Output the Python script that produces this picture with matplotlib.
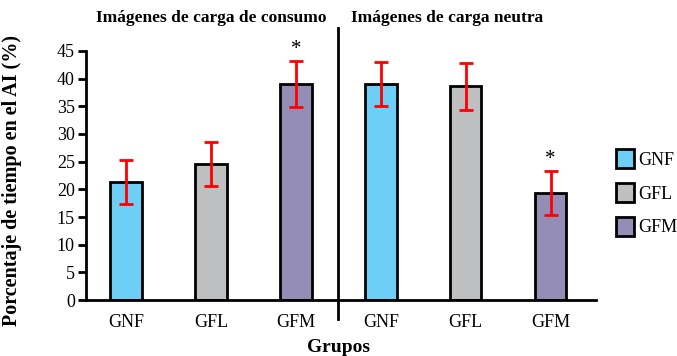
import matplotlib
matplotlib.use('Agg')
import matplotlib.pyplot as plt
from matplotlib.patches import Patch

plt.rcParams['font.family'] = ['Liberation Serif', 'DejaVu Serif']

groups = ['GNF', 'GFL', 'GFM', 'GNF', 'GFL', 'GFM']
values = [21.3, 24.6, 39.0, 39.0, 38.6, 19.3]
errors = [4.0, 4.0, 4.1, 4.0, 4.2, 4.0]
significant = [False, False, True, False, False, True]
panel_titles = ['Imágenes de carga de consumo', 'Imágenes de carga neutra']
colors = {'GNF': '#6ECFF6', 'GFL': '#BEBFC1', 'GFM': '#948DB5'}

fig = plt.figure(figsize=(6.77, 3.56), dpi=100)
ax = fig.add_axes([0.127, 0.157, 0.753, 0.700])

xs = list(range(len(groups)))
ax.bar(xs, values, width=0.37, color=[colors[g] for g in groups],
       edgecolor='black', linewidth=2, zorder=2)
ax.errorbar(xs, values, yerr=errors, fmt='none', ecolor='red',
            elinewidth=2, capsize=5, capthick=2, zorder=3)
for x, v, e, s in zip(xs, values, errors, significant):
    if s:
        ax.text(x, v + e + 0.4, '*', ha='center', va='bottom', fontsize=15)

ax.set_xlim(-0.47, 5.53)
ax.set_ylim(0, 45)
ax.set_yticks(range(0, 46, 5))
ax.set_xticks(xs)
ax.set_xticklabels(groups, fontsize=13)
ax.tick_params(axis='x', length=0, pad=10)
ax.tick_params(axis='y', direction='out', length=6, width=2, labelsize=13, pad=2)
for side in ['top', 'right']:
    ax.spines[side].set_visible(False)
for side in ['left', 'bottom']:
    ax.spines[side].set_linewidth(2)

# separator between the two conditions
ax.axvline(2.5, ymin=-0.075, ymax=1.09, color='black', lw=2, clip_on=False)

ax.text(1.0, 1.10, panel_titles[0], transform=ax.get_xaxis_transform(),
        ha='center', va='bottom', fontsize=12.5, fontweight='bold')
ax.text(2.65, 1.10, panel_titles[1], transform=ax.get_xaxis_transform(),
        ha='left', va='bottom', fontsize=12.5, fontweight='bold')

ax.set_ylabel('Porcentaje de tiempo en el AI (%)', fontsize=14.5, fontweight='bold')
ax.yaxis.set_label_coords(-0.125, 0.48)
fig.text(0.5, 0.025, 'Grupos', ha='center', va='center', fontsize=14, fontweight='bold')

handles = [Patch(facecolor=colors[g], edgecolor='black', linewidth=2, label=g)
           for g in ['GNF', 'GFL', 'GFM']]
fig.legend(handles=handles, loc='center left', bbox_to_anchor=(0.91, 0.458),
           frameon=False, fontsize=13, handlelength=1.0, handleheight=1.2,
           handletextpad=0.25, labelspacing=0.8, borderpad=0, borderaxespad=0)

fig.savefig('out.png', dpi=100)
